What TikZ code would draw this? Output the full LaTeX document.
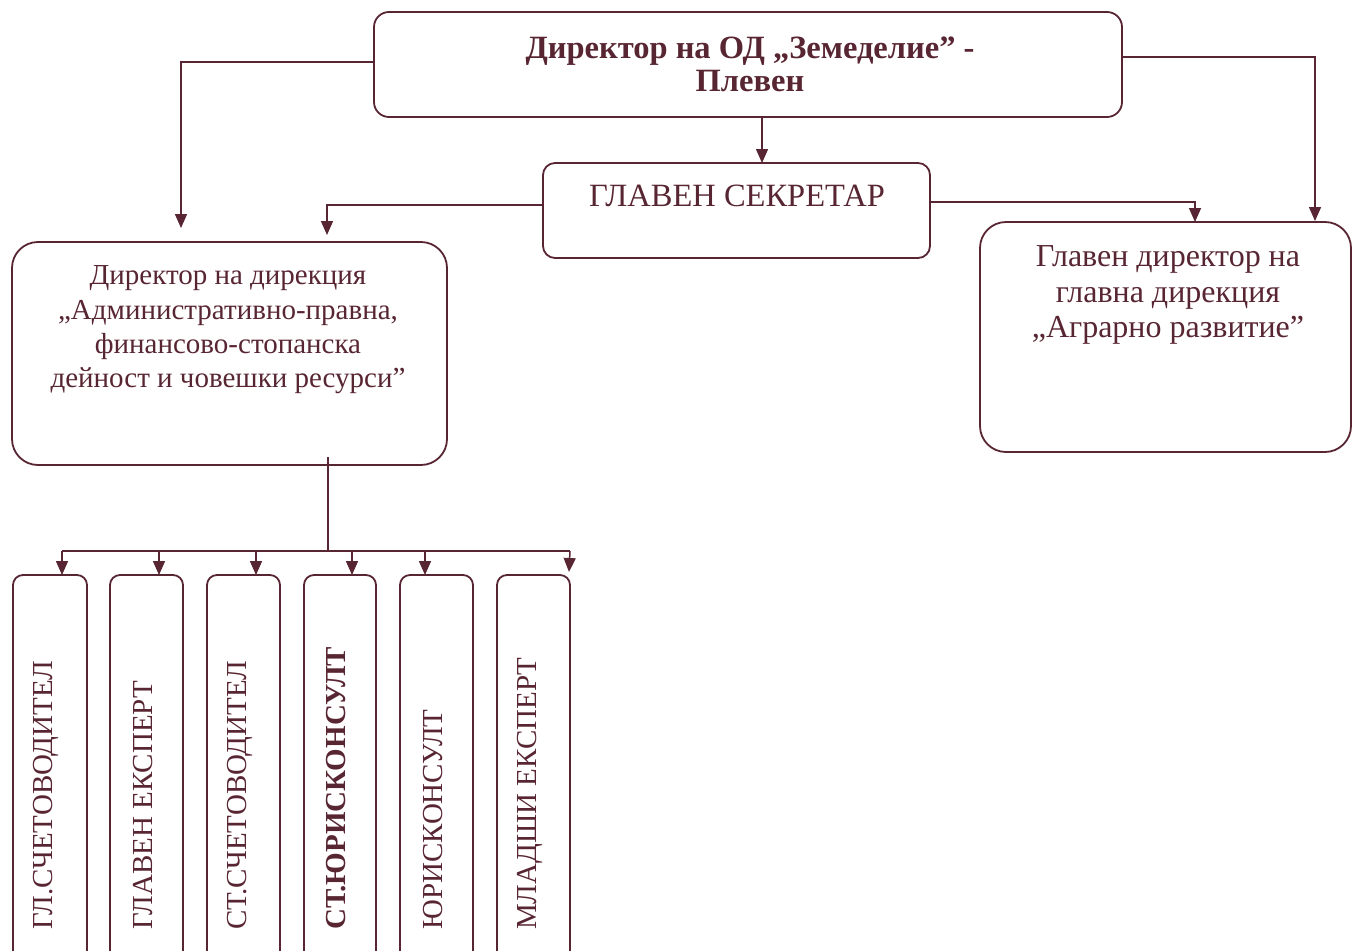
\documentclass[tikz,border=0pt]{standalone}
\usepackage{fontspec}
\setmainfont{Liberation Serif}
\usetikzlibrary{arrows.meta}
\definecolor{ink}{RGB}{88,38,50}
\begin{document}
\begin{tikzpicture}[x=1pt,y=-1pt,
  box/.style={draw=ink, line width=1.8pt, rounded corners=#1, inner sep=0pt},
  box/.default=14pt,
  conn/.style={draw=ink, line width=1.5pt, -{Triangle[length=14pt,width=12pt]}},
  plain/.style={draw=ink, line width=1.5pt},
  lbl/.style={text=ink, align=center, font=\fontsize{29}{35}\selectfont, inner sep=0pt},
  vlbl/.style={text=ink, font=\fontsize{29}{35}\selectfont, inner sep=0pt, rotate=90, anchor=west},
]
\useasboundingbox (0,0) rectangle (1354,950);
\clip (0,0) rectangle (1354,950);

% boxes
\node[box=15pt, minimum width=748pt, minimum height=105pt] (top) at (748,64.5) {};
\node[box=12pt, minimum width=387pt, minimum height=95pt] (sec) at (736.5,210.5) {};
\node[box=26pt, minimum width=435pt, minimum height=223pt] (left) at (229.5,353.5) {};
\node[box=26pt, minimum width=371pt, minimum height=230pt] (right) at (1165.5,337) {};

\node[box=10pt, minimum width=74pt, minimum height=395pt] (b1) at (50,772.5) {};
\node[box=10pt, minimum width=73pt, minimum height=395pt] (b2) at (146.5,772.5) {};
\node[box=10pt, minimum width=73pt, minimum height=395pt] (b3) at (243.5,772.5) {};
\node[box=10pt, minimum width=72pt, minimum height=395pt] (b4) at (340,772.5) {};
\node[box=10pt, minimum width=73pt, minimum height=395pt] (b5) at (436.5,772.5) {};
\node[box=10pt, minimum width=73pt, minimum height=395pt] (b6) at (533.5,772.5) {};

% texts
\node[lbl, font=\fontsize{32.5}{33}\selectfont\bfseries] (topT) at (750,64) {Директор на ОД „Земеделие” -\\Плевен};
\node[lbl, font=\fontsize{32.5}{35}\selectfont] (secT) at (737,196) {ГЛАВЕН СЕКРЕТАР};
\node[lbl, font=\fontsize{29}{34.3}\selectfont] (leftT) at (228,330) {Директор на дирекция\\„Административно-правна,\\финансово-стопанска\\дейност и човешки ресурси”};
\node[lbl, font=\fontsize{32}{35.5}\selectfont] (rightT) at (1168,295) {Главен директор на\\главна дирекция\\„Аграрно развитие”};

\node[vlbl] (t1) at (46,930) {ГЛ.СЧЕТОВОДИТЕЛ};
\node[vlbl] (t2) at (143,930) {ГЛАВЕН ЕКСПЕРТ};
\node[vlbl] (t3) at (240,930) {СТ.СЧЕТОВОДИТЕЛ};
\node[vlbl, font=\fontsize{29}{35}\selectfont\bfseries] (t4) at (336,930) {СТ.ЮРИСКОНСУЛТ};
\node[vlbl] (t5) at (433,930) {ЮРИСКОНСУЛТ};
\node[vlbl] (t6) at (530,930) {МЛАДШИ ЕКСПЕРТ};

% free ends and corners
\coordinate (tl) at (181,62);
\coordinate (tlEnd) at (181,228);
\coordinate (trc) at (1315,57);
\coordinate (trEnd) at (1315,221);
\coordinate (tcS) at (762,117);
\coordinate (tcEnd) at (762,163);
\coordinate (slc) at (327,205);
\coordinate (slEnd) at (327,235);
\coordinate (src) at (1195,202);
\coordinate (srEnd) at (1195,222);
\coordinate (lS) at (328,457);
\coordinate (bus) at (328,551);
\coordinate (busL) at (62,551);
\coordinate (busR) at (570,551);

% connectors
\draw[conn] (top.west |- tl) -- (tl) -- (tlEnd);
\draw[conn] (top.east |- trc) -- (trc) -- (trEnd);
\draw[conn] (tcS) -- (tcEnd);
\draw[conn] (sec.west |- slc) -- (slc) -- (slEnd);
\draw[conn] (sec.east |- src) -- (src) -- (srEnd);
\draw[plain] (lS) -- (bus);
\draw[plain] (busL) -- (busR);
\draw[conn] (busL) -- (62,575);
\draw[conn] (159,551) -- (159,575);
\draw[conn] (256,551) -- (256,575);
\draw[conn] (352,551) -- (352,575);
\draw[conn] (425,551) -- (425,575);
\draw[conn] (busR) -- (569,572);
\end{tikzpicture}
\end{document}
